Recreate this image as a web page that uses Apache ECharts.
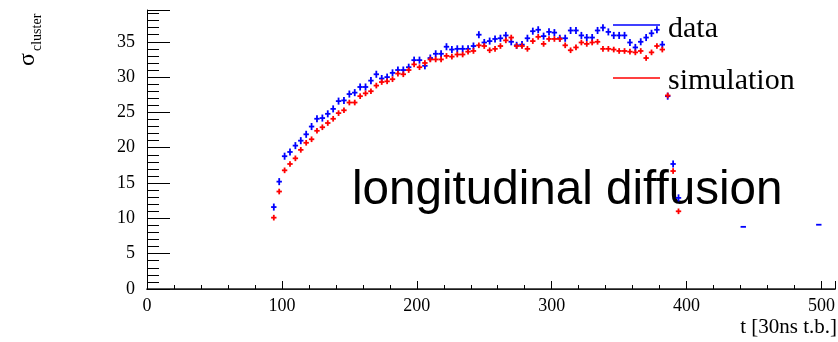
<!DOCTYPE html>
<html>
<head>
<meta charset="utf-8">
<script src="https://cdn.jsdelivr.net/npm/echarts@6/dist/echarts.min.js"></script>
<style>
html,body{margin:0;padding:0;background:#fff;}
#chart{width:838px;height:342px;}
</style>
</head>
<body>
<div id="chart"></div>
<script>
// ---- data ----
const binCenters = [94,98,102,106,110,114,118,122,126,130,134,138,142,146,150,154,158,162,166,170,
  174,178,182,186,190,194,198,202,206,210,214,218,222,226,230,234,238,242,246,250,
  254,258,262,266,270,274,278,282,286,290,294,298,302,306,310,314,318,322,326,330,
  334,338,342,346,350,354,358,362,366,370,374,378,382,386,390,394];
const dataSigma = [11.6,15.2,18.8,19.4,20.3,21.0,21.9,23.0,24.1,24.2,24.8,25.5,26.6,26.7,27.6,27.8,28.6,28.6,29.5,30.4,
  29.8,30.0,30.6,31.0,31.0,31.4,32.4,32.4,31.6,32.7,33.3,33.3,34.3,33.9,34.0,34.0,34.0,34.4,36.0,34.9,
  35.1,35.4,35.5,35.9,35.0,34.5,34.6,35.5,36.5,36.7,35.8,36.4,36.3,35.5,35.5,36.6,36.6,35.9,35.6,35.6,
  36.6,37.0,36.4,35.9,35.9,35.9,34.9,34.2,35.0,35.6,36.2,36.7,34.6,27.3,17.7,12.9];
const simSigma = [10.1,13.8,16.8,17.7,18.5,19.7,20.7,21.2,22.4,22.9,23.5,24.1,24.9,25.3,26.4,26.4,27.3,27.7,28.0,28.8,
  29.3,29.4,29.7,30.5,30.4,31.0,31.8,31.4,32.0,32.5,32.5,32.5,33.0,32.9,33.2,33.2,33.6,33.7,34.5,34.4,
  33.8,34.0,34.4,35.2,35.6,34.4,34.4,34.0,35.1,35.7,34.7,35.4,35.4,35.4,34.5,33.8,34.2,34.9,34.7,34.9,
  35.0,34.0,34.0,33.9,33.7,33.7,33.6,33.5,33.7,32.7,33.5,34.4,33.9,27.4,16.7,11.0];
const dataErr = 0.5;
const simErr = 0.4;
const extraDataT = [442, 498];
const extraDataSigma = [8.8, 9.1];
const binWidth = 4;
const xTicks = [0, 100, 200, 300, 400, 500];
const yTicks = [0, 5, 10, 15, 20, 25, 30, 35];

// ---- build ----
const blue = '#0000ff', red = '#ff0000';
const dataPts = binCenters.map((t, i) => [t, dataSigma[i], dataErr]);
extraDataT.forEach((t, i) => dataPts.push([t, extraDataSigma[i], 0]));
const simPts = binCenters.map((t, i) => [t, simSigma[i], simErr]);

function errRender(color) {
  return function (params, api) {
    const t = api.value(0), v = api.value(1), e = api.value(2);
    const h0 = api.coord([t - binWidth / 2, v]);
    const h1 = api.coord([t + binWidth / 2, v]);
    const children = [{
      type: 'line',
      shape: { x1: h0[0], y1: h0[1], x2: h1[0], y2: h1[1] },
      style: { stroke: color, lineWidth: 1.8 }
    }];
    if (e > 0) {
      const v0 = api.coord([t, v - e]);
      const v1 = api.coord([t, v + e]);
      children.push({
        type: 'line',
        shape: { x1: v0[0], y1: v0[1], x2: v1[0], y2: v1[1] },
        style: { stroke: color, lineWidth: 1.8 }
      });
    }
    return { type: 'group', children };
  };
}

const serif = 'Liberation Serif, Times New Roman, serif';
const chart = echarts.init(document.getElementById('chart'), null, { renderer: 'canvas' });
chart.setOption({
  animation: false,
  backgroundColor: '#fff',
  grid: { left: 147, right: 0, top: 10, bottom: 53, containLabel: false },
  xAxis: [{
    type: 'value', min: 0, max: 510, interval: 100,
    axisLine: { show: true, onZero: false, lineStyle: { color: '#000', width: 1 } },
    axisTick: { show: true, inside: true, length: 8, lineStyle: { color: '#000' } },
    minorTick: { show: true, splitNumber: 5, length: 4, lineStyle: { color: '#000' } },
    splitLine: { show: false },
    axisLabel: {
      showMaxLabel: false, margin: 8, color: '#000', fontFamily: serif, fontSize: 18,
      formatter: v => (xTicks.indexOf(v) >= 0 ? String(v) : '')
    }
  }, {
    type: 'value', position: 'top', min: 0, max: 510,
    axisLine: { show: true, lineStyle: { color: '#222', width: 1.5 } },
    axisTick: { show: false }, axisLabel: { show: false }, splitLine: { show: false }
  }],
  yAxis: {
    type: 'value', min: 0, max: 39.5, interval: 5,
    axisLine: { show: true, onZero: false, lineStyle: { color: '#000', width: 1 } },
    axisTick: { show: true, inside: true, length: 23, lineStyle: { color: '#000' } },
    minorTick: { show: true, splitNumber: 5, length: 12, lineStyle: { color: '#000' } },
    splitLine: { show: false },
    axisLabel: {
      showMaxLabel: false, margin: 12, color: '#000', fontFamily: serif, fontSize: 18,
      formatter: v => (yTicks.indexOf(v) >= 0 ? String(v) : '')
    }
  },
  series: [{
    name: 'data', type: 'custom', renderItem: errRender(blue),
    encode: { x: 0, y: 1 }, data: dataPts, clip: true, z: 3
  }, {
    name: 'simulation', type: 'custom', renderItem: errRender(red),
    encode: { x: 0, y: 1 }, data: simPts, clip: true, z: 4
  }],
  graphic: [
    { type: 'line', z: 10, shape: { x1: 613, y1: 25, x2: 660, y2: 25 }, style: { stroke: blue, lineWidth: 1.5 } },
    { type: 'text', z: 10, x: 668, y: 29, style: { text: 'data', fill: '#000', font: '30px ' + serif, verticalAlign: 'middle' } },
    { type: 'line', z: 10, shape: { x1: 613, y1: 78, x2: 660, y2: 78 }, style: { stroke: red, lineWidth: 1.5 } },
    { type: 'text', z: 10, x: 668, y: 81, style: { text: 'simulation', fill: '#000', font: '30px ' + serif, verticalAlign: 'middle' } },
    { type: 'text', z: 1, x: 352, y: 191, style: { text: 'longitudinal diffusion', fill: '#000', font: '47.6px Liberation Sans, Arial, sans-serif', verticalAlign: 'middle' } },
    { type: 'text', z: 10, x: 837, y: 338, style: { text: 't [30ns t.b.]', fill: '#000', font: '21px ' + serif, align: 'right', verticalAlign: 'bottom' } },
    { type: 'text', z: 10, x: 28, y: 66, rotation: Math.PI / 2, style: { text: 'σ', fill: '#000', font: '24px ' + serif, align: 'left', verticalAlign: 'middle' } },
    { type: 'text', z: 10, x: 37, y: 51, rotation: Math.PI / 2, style: { text: 'cluster', fill: '#000', font: '14px ' + serif, align: 'left', verticalAlign: 'middle' } }
  ]
});
</script>
</body>
</html>
